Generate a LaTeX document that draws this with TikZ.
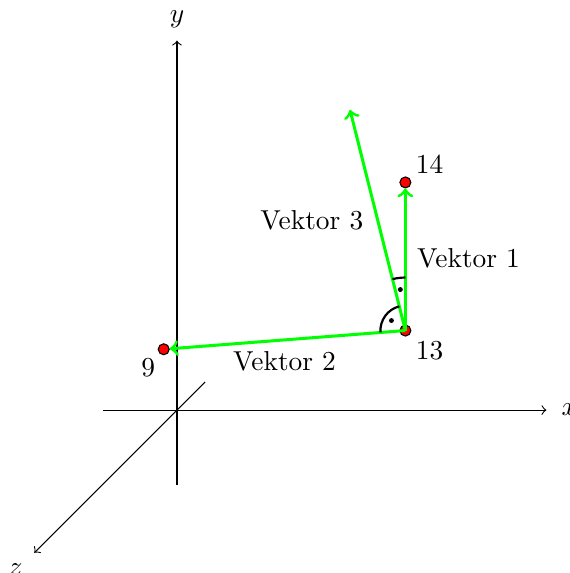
\documentclass[tikz,border=0pt]{standalone}
\begin{document}
\begin{tikzpicture}[
        vektor/.style={green, line width=1.1pt, ->},
        punkt/.style={circle, draw=black, fill=red, inner sep=0pt, minimum size=4pt}
    ]
            \useasboundingbox (-2.27,-2.09) rectangle (5.03,5.26);

            % Achsen
            \coordinate (O) at (0,0);
            \coordinate (xa) at (-0.95,0);
            \coordinate (xe) at (4.74,0);
            \coordinate (ya) at (0,-0.96);
            \coordinate (ye) at (0,4.74);
            \coordinate (za) at (0.36,0.36);
            \coordinate (ze) at (-1.83,-1.83);
            \draw[->] (xa) -- (xe) node[right,xshift=2pt] (xlab) {$x$};
            \draw[->] (ya) -- (ye) node[above,yshift=1pt] (ylab) {$y$};
            \draw[->] (za) -- (ze);
            \node (zlab) at (-2.07,-2.05) {$z$};

            % Punkte
            \node[punkt] (p13) at (2.93,1.02) {};
            \node[punkt] (p14) at (2.93,2.92) {};
            \node[punkt] (p9) at (-0.17,0.78) {};
            \coordinate (v3) at (2.22,3.85);
            \node (l13) at (3.24,0.76) {13};
            \node (l14) at (3.24,3.15) {14};
            \node (l9) at (-0.37,0.55) {9};

            % Vektoren
            \draw[vektor] (p13.center) -- (p14);
            \draw[vektor] (p13.center) -- (p9);
            \draw[vektor] (p13.center) -- (v3);
            \node (lv1) at (3.74,1.95) {Vektor 1};
            \node (lv2) at (1.38,0.62) {Vektor 2};
            \node (lv3) at (1.73,2.44) {Vektor 3};

            % rechte Winkel
            \draw[thick] (p13.center) ++(184.4:0.32)
                arc[start angle=184.4, end angle=104.1, radius=0.32];
            \fill (p13.center) ++(144.3:0.22) circle (0.9pt);
            \draw[thick] (p13.center) ++(104.1:0.68)
                arc[start angle=104.1, end angle=90, radius=0.68];
            \fill (p13.center) ++(97:0.53) circle (0.9pt);

\end{tikzpicture}
\end{document}
